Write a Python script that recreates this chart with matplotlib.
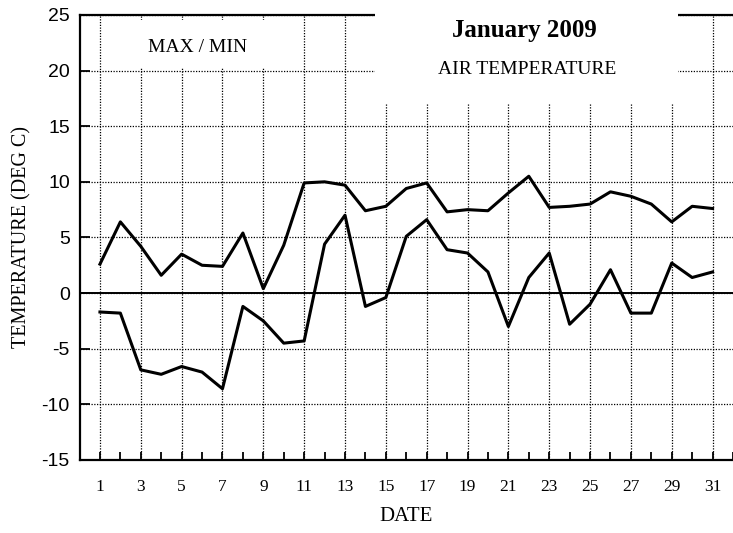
import matplotlib.pyplot as plt
from matplotlib.patches import Rectangle
from matplotlib.ticker import MultipleLocator

# daily air temperature, January 2009 (deg C)
days = list(range(1, 32))
t_max = [2.6, 6.4, 4.2, 1.6, 3.5, 2.5, 2.4, 5.4, 0.4, 4.3,
         9.9, 10.0, 9.7, 7.4, 7.8, 9.4, 9.9, 7.3, 7.5, 7.4,
         9.0, 10.5, 7.7, 7.8, 8.0, 9.1, 8.7, 8.0, 6.4, 7.8, 7.6]
t_min = [-1.7, -1.8, -6.9, -7.3, -6.6, -7.1, -8.6, -1.2, -2.5, -4.5,
         -4.3, 4.4, 7.0, -1.2, -0.4, 5.1, 6.6, 3.9, 3.6, 1.9,
         -3.0, 1.4, 3.6, -2.8, -1.0, 2.1, -1.8, -1.8, 2.7, 1.4, 1.9]
odd_days = list(range(1, 32, 2))

serif = "Liberation Serif"
sans = "Liberation Sans"
plt.rcParams["axes.unicode_minus"] = False

fig = plt.figure(figsize=(7.33, 5.33), dpi=100)
ax = fig.add_axes([0.1085, 0.137, 0.8915, 0.835])

ax.set_xlim(0, 32)
ax.set_ylim(-15, 25)

# grid: dotted lines at odd days and every 5 degrees
ax.set_xticks(odd_days)
ax.xaxis.set_minor_locator(MultipleLocator(1))
ax.yaxis.set_major_locator(MultipleLocator(5))
ax.grid(True, which="major", color="black", linestyle=(0, (1, 1.2)), linewidth=0.9)

ax.tick_params(axis="x", which="both", direction="in", length=6, width=1.3,
               pad=14, labelsize=12.5, top=False)
ax.tick_params(axis="y", which="major", direction="in", length=7, width=1.3,
               pad=7, labelsize=14, right=False)
for lbl in ax.get_xticklabels():
    lbl.set_fontfamily(serif)
for lbl in ax.get_yticklabels():
    lbl.set_fontfamily(sans)

for side in ["left", "bottom", "top"]:
    ax.spines[side].set_linewidth(1.6)
ax.spines["right"].set_visible(False)

ax.axhline(0, color="black", linewidth=1.4, zorder=2)

ax.plot(days, t_max, color="black", linewidth=2.2, zorder=3)
ax.plot(days, t_min, color="black", linewidth=2.2, zorder=3)

# white boxes behind the labels (hide grid and part of top frame)
ax.add_patch(Rectangle((14.45, 17.1), 14.85, 9.0, facecolor="white",
                       edgecolor="none", zorder=2.6, clip_on=False))
ax.add_patch(Rectangle((2.0, 20.2), 8.0, 4.3, facecolor="white",
                       edgecolor="none", zorder=2.6))

ax.text(21.8, 23.6, "January 2009", ha="center", va="center", fontsize=18,
        fontweight="bold", fontfamily=serif, zorder=4)
ax.text(21.9, 20.05, "AIR TEMPERATURE", ha="center", va="center", fontsize=14,
        fontfamily=serif, zorder=4)
ax.text(5.8, 22.1, "MAX / MIN", ha="center", va="center", fontsize=14,
        fontfamily=serif, zorder=4)

ax.set_xlabel("DATE", fontsize=15, fontfamily=serif, labelpad=8)
ax.set_ylabel("TEMPERATURE (DEG C)", fontsize=14.5, fontfamily=serif, labelpad=7)

fig.savefig("out.png", dpi=100)
